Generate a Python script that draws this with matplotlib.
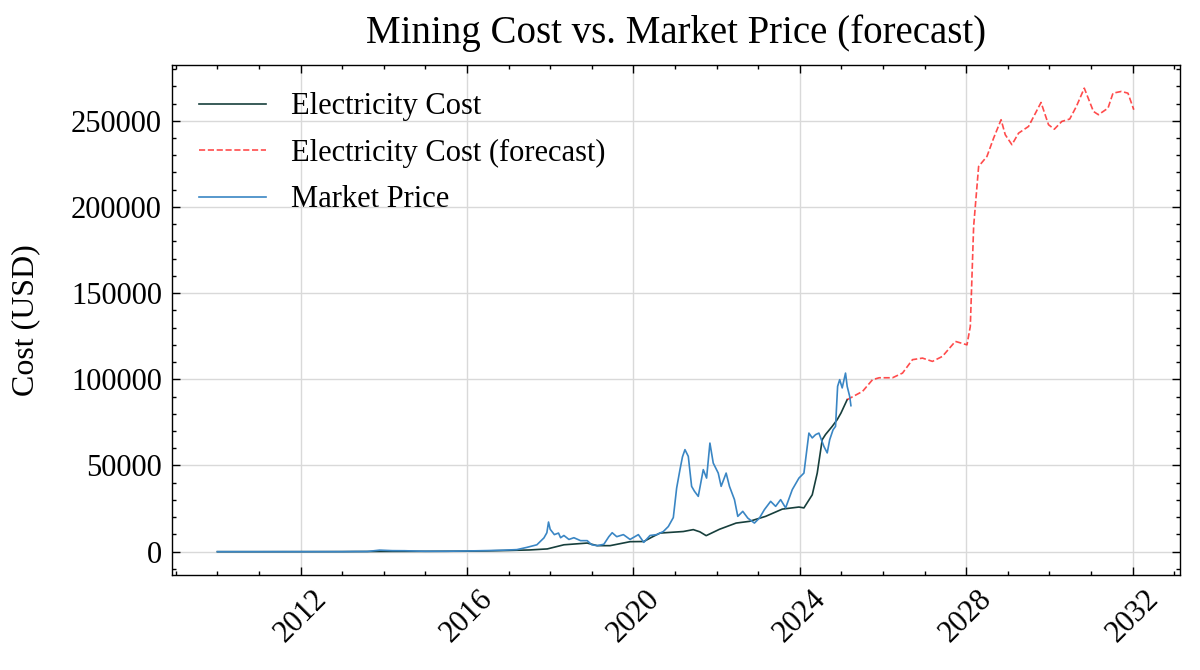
import matplotlib
matplotlib.use("Agg")
import matplotlib.pyplot as plt
from matplotlib.ticker import MultipleLocator, FuncFormatter

# ---- data (decimal years) ----
elec_years = [2010.0, 2011.0, 2012.0, 2013.0, 2014.0, 2015.0, 2016.0, 2016.5, 2017.0, 2017.5,
              2017.93, 2018.33, 2018.89, 2019.13, 2019.44, 2019.92, 2020.25, 2020.45, 2020.64,
              2021.2, 2021.44, 2021.6, 2021.75, 2022.07, 2022.47, 2022.79, 2023.18, 2023.58,
              2023.98, 2024.1, 2024.3, 2024.42, 2024.54, 2024.62, 2024.78, 2024.9, 2024.99, 2025.14]
elec_cost = [0, 0, 20, 50, 150, 200, 300, 450, 700, 1000,
             1600, 4000, 5000, 3500, 3500, 5800, 5900, 8500, 10800,
             11700, 12800, 11500, 9300, 13000, 16600, 17600, 20500, 24700,
             25900, 25400, 33000, 45600, 65000, 68000, 72700, 76600, 80400, 88200]

fc_years = [2025.14, 2025.51, 2025.75, 2025.91, 2026.23, 2026.47, 2026.71, 2026.95, 2027.19,
            2027.43, 2027.74, 2028.02, 2028.1, 2028.18, 2028.3, 2028.5, 2028.66, 2028.84,
            2028.94, 2029.1, 2029.26, 2029.5, 2029.8, 2029.98, 2030.12, 2030.3, 2030.49,
            2030.65, 2030.84, 2031.06, 2031.18, 2031.41, 2031.53, 2031.73, 2031.89, 2032.03]
fc_cost = [88200, 93000, 99800, 100900, 100900, 103600, 111400, 112300, 110400,
           113300, 122000, 120000, 130700, 188700, 223500, 229300, 239900, 250600,
           241900, 236100, 242800, 246700, 260600, 247700, 245100, 249600, 251000,
           258300, 268900, 255400, 253500, 257300, 266000, 267000, 266000, 256400]

price_years = [2010.0, 2010.5, 2011.0, 2011.5, 2012.0, 2012.5, 2013.0, 2013.3, 2013.6, 2013.9,
               2014.0, 2014.2, 2014.5, 2014.8, 2015.0, 2015.5, 2016.0, 2016.5, 2016.9, 2017.2,
               2017.44, 2017.68, 2017.85, 2017.92, 2017.96, 2018.0, 2018.1, 2018.2, 2018.25,
               2018.33, 2018.45, 2018.57, 2018.73, 2018.89, 2019.0, 2019.13, 2019.29, 2019.41,
               2019.49, 2019.6, 2019.76, 2019.92, 2020.12, 2020.25, 2020.4, 2020.56, 2020.72,
               2020.84, 2020.96, 2021.04, 2021.12, 2021.18, 2021.24, 2021.32, 2021.4, 2021.47,
               2021.56, 2021.68, 2021.76, 2021.84, 2021.92, 2022.04, 2022.11, 2022.23, 2022.31,
               2022.43, 2022.51, 2022.63, 2022.75, 2022.91, 2023.03, 2023.15, 2023.3, 2023.42,
               2023.54, 2023.66, 2023.82, 2023.98, 2024.1, 2024.22, 2024.3, 2024.38, 2024.46,
               2024.58, 2024.66, 2024.72, 2024.8, 2024.86, 2024.91, 2024.96, 2025.02, 2025.1,
               2025.14, 2025.2, 2025.23]
price = [0, 0, 0, 10, 5, 8, 15, 100, 100, 900,
         800, 600, 550, 350, 250, 250, 400, 650, 900, 1200,
         2500, 4000, 8000, 11000, 17200, 13000, 9900, 10800, 8100,
         9400, 7100, 8100, 6400, 6400, 4000, 3500, 4300, 8700,
         11000, 8700, 9900, 7100, 9900, 5400, 9400, 9900, 11700,
         14600, 19800, 36900, 47600, 55000, 59200, 55300, 37900, 35000,
         32100, 47600, 42700, 63000, 51400, 45600, 37900, 45600, 37900,
         30200, 20500, 23400, 19500, 16600, 19500, 24400, 29200, 26300,
         30200, 25400, 36000, 42700, 45600, 68800, 66000, 67900, 68800,
         61100, 57300, 65000, 70700, 72700, 95900, 99800, 95000, 103600,
         95900, 90100, 84700]

title = "Mining Cost vs. Market Price (forecast)"
ylabel = "Cost (USD)"

plt.rcParams['font.family'] = ['Liberation Serif', 'DejaVu Serif']
plt.rcParams['xtick.direction'] = 'in'
plt.rcParams['ytick.direction'] = 'in'
plt.rcParams['xtick.top'] = True
plt.rcParams['ytick.right'] = True
plt.rcParams['xtick.major.size'] = 3
plt.rcParams['ytick.major.size'] = 3
plt.rcParams['xtick.minor.size'] = 1.5
plt.rcParams['ytick.minor.size'] = 1.5
plt.rcParams['xtick.major.width'] = 0.5
plt.rcParams['ytick.major.width'] = 0.5
plt.rcParams['xtick.minor.width'] = 0.5
plt.rcParams['ytick.minor.width'] = 0.5
plt.rcParams['axes.linewidth'] = 0.5

fig, ax = plt.subplots(figsize=(6, 3.35), dpi=200)
fig.subplots_adjust(left=0.143, right=0.983, top=0.903, bottom=0.142)

ax.plot(elec_years, elec_cost, color='#173f3c', lw=0.6, label='Electricity Cost')
ax.plot(fc_years, fc_cost, color='red', alpha=0.7, lw=0.6, ls='--', label='Electricity Cost (forecast)')
ax.plot(price_years, price, color='#3a86c4', lw=0.6, label='Market Price')

ax.xaxis.set_major_locator(MultipleLocator(4))
ax.xaxis.set_minor_locator(MultipleLocator(1))
ax.yaxis.set_major_locator(MultipleLocator(50000))
ax.yaxis.set_minor_locator(MultipleLocator(10000))
ax.xaxis.set_major_formatter(FuncFormatter(lambda v, p: f"{int(round(v))}"))
ax.yaxis.set_major_formatter(FuncFormatter(lambda v, p: f"{int(round(v))}"))
ax.tick_params(axis='both', which='major', labelsize=11)
plt.setp(ax.get_xticklabels(), rotation=45)

ax.grid(True, which='major', color='0.85', lw=0.5)
ax.set_axisbelow(True)

ax.set_title(title, fontsize=14, pad=8)
ax.set_ylabel(ylabel, fontsize=11.5, labelpad=11)
ax.legend(loc='upper left', frameon=False, fontsize=11, handlelength=2.2, labelspacing=0.57)

fig.savefig('out.png', dpi=200)
